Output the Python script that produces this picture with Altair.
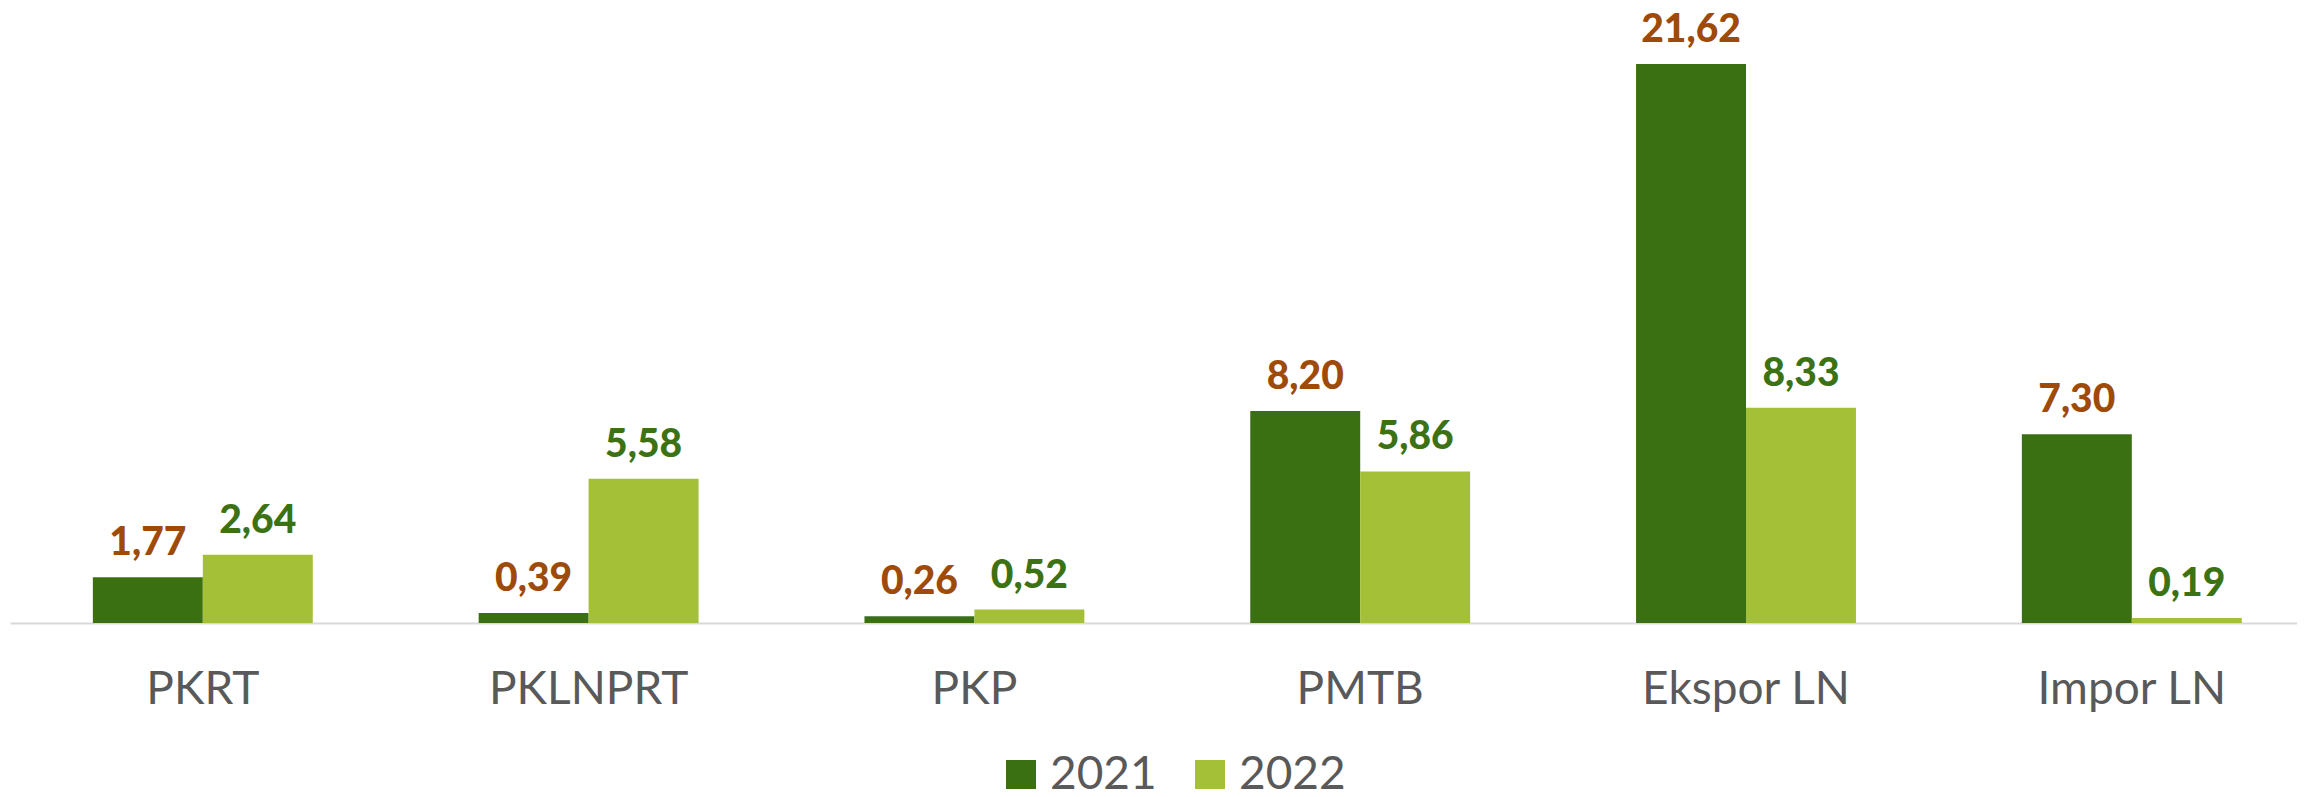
import altair as alt
import pandas as pd

categories = ["PKRT", "PKLNPRT", "PKP", "PMTB", "Ekspor LN", "Impor LN"]
years = ["2021", "2022"]
v2021 = [1.77, 0.39, 0.26, 8.20, 21.62, 7.30]
v2022 = [2.64, 5.58, 0.52, 5.86, 8.33, 0.19]

rows = []
for c, a, b in zip(categories, v2021, v2022):
    rows.append({"cat": c, "year": "2021", "value": a, "label": f"{a:.2f}".replace(".", ",")})
    rows.append({"cat": c, "year": "2022", "value": b, "label": f"{b:.2f}".replace(".", ",")})
df = pd.DataFrame(rows)

bar_colors = ["#3B7012", "#A4C037"]
label_colors = ["#9E4A08", "#3C7214"]

x = alt.X("cat:N", sort=categories, title=None,
          scale=alt.Scale(paddingInner=0.43, paddingOuter=0.179, align=0.6),
          axis=alt.Axis(labelAngle=0, ticks=False, domainColor="#D9D9D9", domainWidth=2,
                        labelColor="#595959", labelFont="Lato", labelFontSize=46,
                        labelPadding=44, labelLimit=0))
xo = alt.XOffset("year:N", sort=years, scale=alt.Scale(paddingInner=0, paddingOuter=0))
y = alt.Y("value:Q", axis=None, scale=alt.Scale(domain=[0, 23.71], nice=False, zero=True))

bars = alt.Chart(df).mark_bar().encode(
    x=x, xOffset=xo, y=y,
    color=alt.Color("year:N", sort=years,
                    scale=alt.Scale(domain=years, range=bar_colors),
                    legend=alt.Legend(title=None, orient="none", direction="horizontal",
                                      legendX=988, legendY=742, padding=0,
                                      symbolType="square", symbolSize=900,
                                      symbolStrokeWidth=0,
                                      labelFont="Lato", labelFontSize=46,
                                      labelColor="#595959", columnPadding=30,
                                      labelOffset=6)),
)

texts = alt.Chart(df).mark_text(font="Lato", fontWeight=900, fontSize=39,
                                baseline="alphabetic", dy=-22).encode(
    x=x, xOffset=xo, y=y,
    text="label:N",
    color=alt.Color("year:N", sort=years,
                    scale=alt.Scale(domain=years, range=label_colors), legend=None),
)

chart = alt.layer(bars, texts).resolve_scale(color="independent").properties(
    width=2287, height=613,
    autosize=alt.AutoSizeParams(type="none"),
    padding={"left": 2, "top": 2, "right": 0, "bottom": 166},
).configure_view(stroke=None)

chart.save("out.html", embed_options={"renderer": "svg", "actions": False})
